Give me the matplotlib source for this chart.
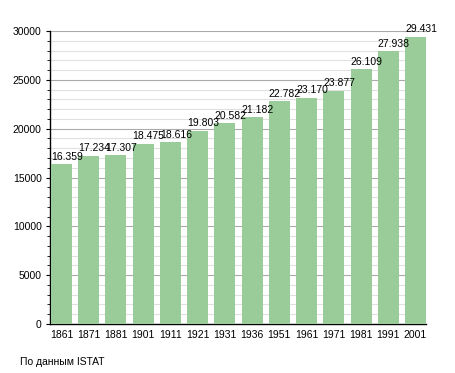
import matplotlib.pyplot as plt
from matplotlib.ticker import MultipleLocator

years = ["1861", "1871", "1881", "1901", "1911", "1921", "1931",
         "1936", "1951", "1961", "1971", "1981", "1991", "2001"]
population = [16359, 17234, 17307, 18475, 18616, 19803, 20582,
              21182, 22782, 23170, 23877, 26109, 27938, 29431]

plt.rcParams['font.family'] = ['Liberation Sans', 'DejaVu Sans']

fig = plt.figure(figsize=(4.55, 3.73), dpi=100)
ax = fig.add_axes([50 / 455, 1 - 324 / 373, 376 / 455, 293 / 373])

x = list(range(len(years)))
w = 0.77
ax.bar(x, population, width=w, color="#99cc99", zorder=3)

# labels sit on the left edge of each bar
for i, v in zip(x, population):
    s = f"{v:,}".replace(",", ".")
    ax.text(i - w / 2, v + 250, s, ha="left", va="bottom", fontsize=7.5, zorder=4)

ax.set_xlim(-0.42, 13 + w / 2)
ax.set_ylim(0, 30000)
ax.set_xticks(x)
ax.set_xticklabels(years)
ax.yaxis.set_major_locator(MultipleLocator(5000))
ax.yaxis.set_minor_locator(MultipleLocator(1000))
ax.grid(axis="y", which="major", color="#aaaaaa", linewidth=0.8, zorder=1)
ax.grid(axis="y", which="minor", color="#e0e0e0", linewidth=0.8, zorder=0)
ax.tick_params(axis="x", length=0, labelsize=7.5, pad=4)
ax.tick_params(axis="y", which="major", length=3, labelsize=7.5, pad=3)
ax.tick_params(axis="y", which="minor", length=2)
for side in ["top", "right"]:
    ax.spines[side].set_visible(False)
ax.spines["left"].set_linewidth(1.0)
ax.spines["bottom"].set_linewidth(1.0)

fig.text(20 / 455, 1 - 362 / 373, "По данным ISTAT", fontsize=7.5, va="center", ha="left")

fig.savefig("out.png", dpi=100)
